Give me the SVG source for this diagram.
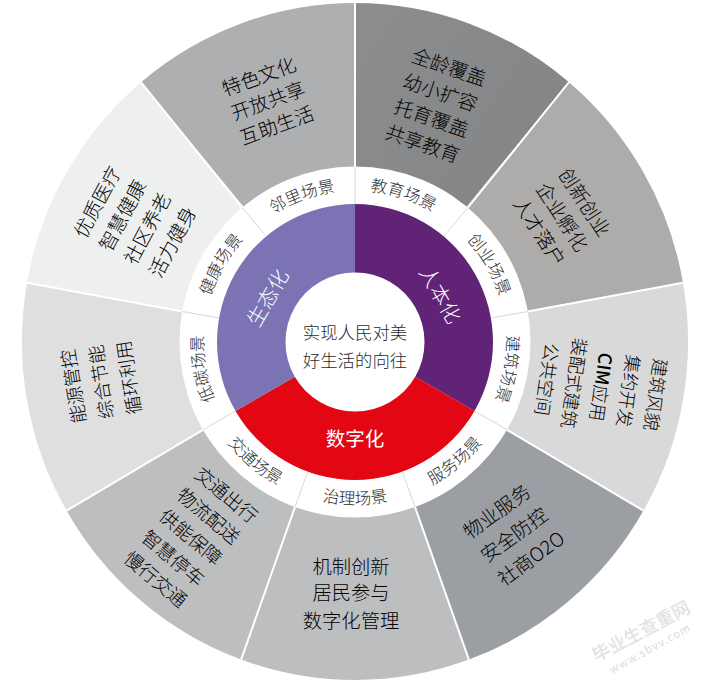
<svg xmlns="http://www.w3.org/2000/svg" width="713" height="686" viewBox="0 0 713 686">
<style>
text{font-family:"Noto Sans CJK SC","Noto Sans",sans-serif;font-weight:300}
.o{font-size:19.3px;fill:#000;text-anchor:middle}
.s{font-size:16.5px;fill:#2b2b2b;text-anchor:middle}
.m{font-size:20.5px;fill:#fff;text-anchor:middle}
.c{font-size:17.4px;fill:#2b2b2b;text-anchor:middle}
.w{fill:#e2e2e2;text-anchor:middle;font-weight:500}
.d{stroke:#fff;stroke-width:2;fill:none}
.t{stroke:#d8d8d8;stroke-width:1;fill:none}
</style>
<defs>
<path id="a20" d="M328.7 192.8A151.5 151.5 0 0 1 471.1 244.6"/>
<path id="a60" d="M430.75 210.8A151.5 151.5 0 0 1 506.5 342"/>
<path id="a100" d="M497.4 290.2A151.5 151.5 0 0 1 471.1 439.4"/>
<path id="a260" d="M238.9 439.4A151.5 151.5 0 0 1 212.6 290.2"/>
<path id="a300" d="M203.5 342A151.5 151.5 0 0 1 279.25 210.8"/>
<path id="a340" d="M238.9 244.6A151.5 151.5 0 0 1 381.3 192.8"/>
<path id="a140" d="M383.2 502A162.5 162.5 0 0 0 507.7 397.6"/>
<path id="a180" d="M273.75 482.7A162.5 162.5 0 0 0 436.25 482.7"/>
<path id="a220" d="M202.3 397.6A162.5 162.5 0 0 0 326.8 502"/>
<linearGradient id="g1" x1="0" y1="0" x2="1" y2="1"><stop offset="0" stop-color="#8c8d8f"/><stop offset="1" stop-color="#7f8183"/></linearGradient>
</defs>
<rect width="713" height="686" fill="#fff"/>
<g id="sector-education">
<path fill="url(#g1)" d="M355 342V3A333 338.5 0 0 1 569 82.2Z"/>
<g transform="translate(436 105) rotate(19)"><text class="o" y="-33">全龄覆盖</text><text class="o" y="-6">幼小扩容</text><text class="o" y="21">托育覆盖</text><text class="o" y="48">共享教育</text></g>
</g>
<g id="sector-innovation">
<path fill="#aeacab" d="M355 342L569 82.2A333 338.5 0 0 1 683 282.7Z"/>
<g transform="translate(562 217) rotate(57)"><text class="o" y="-20">创新创业</text><text class="o" y="7">企业孵化</text><text class="o" y="34">人才落户</text></g>
</g>
<g id="sector-architecture">
<path fill="#d9d9d9" d="M355 342L683 282.7A333 338.5 0 0 1 643.4 510.7Z"/>
<g transform="translate(601 387) rotate(98)"><text class="o" style="font-size:18.2px" y="-48.5">建筑风貌</text><text class="o" style="font-size:18.2px" y="-21">集约开发</text><text class="o" style="font-size:18.2px" y="6.5"><tspan style="font-weight:500">CIM</tspan>应用</text><text class="o" style="font-size:18.2px" y="34">装配式建筑</text><text class="o" style="font-size:18.2px" y="61.5">公共空间</text></g>
</g>
<g id="sector-service">
<path fill="#9b9ea3" d="M355 342L643.4 510.7A333 338.5 0 0 1 468.9 659.6Z"/>
<g transform="translate(514 535) rotate(-36)"><text class="o" y="-22">物业服务</text><text class="o" y="7">安全防控</text><text class="o" y="36">社商O2O</text></g>
</g>
<g id="sector-governance">
<path fill="#bdbec0" d="M355 342L468.9 659.6A333 338.5 0 0 1 241.1 659.6Z"/>
<text class="o" x="351" y="573.5">机制创新</text><text class="o" x="351" y="600">居民参与</text><text class="o" x="351" y="628">数字化管理</text>
</g>
<g id="sector-traffic">
<path fill="#bdbebf" d="M355 342L241.1 659.6A333 338.5 0 0 1 66.6 510.7Z"/>
<g transform="translate(191 537) rotate(40)"><text class="o" style="font-size:18.7px" y="-48">交通出行</text><text class="o" style="font-size:18.7px" y="-20.5">物流配送</text><text class="o" style="font-size:18.7px" y="7">供能保障</text><text class="o" style="font-size:18.7px" y="34.5">智慧停车</text><text class="o" style="font-size:18.7px" y="62">慢行交通</text></g>
</g>
<g id="sector-lowcarbon">
<path fill="#dfdfdf" d="M355 342L66.6 510.7A333 338.5 0 0 1 27 282.7Z"/>
<g transform="translate(101 382) rotate(-99)"><text class="o" style="font-size:18.6px" y="-21">能源管控</text><text class="o" style="font-size:18.6px" y="7">综合节能</text><text class="o" style="font-size:18.6px" y="35">循环利用</text></g>
</g>
<g id="sector-health">
<path fill="#eef0ef" d="M355 342L27 282.7A333 338.5 0 0 1 141 82.2Z"/>
<g transform="translate(135 222) rotate(-62)"><text class="o" y="-35.5">优质医疗</text><text class="o" y="-7">智慧健康</text><text class="o" y="21">社区养老</text><text class="o" y="49.5">活力健身</text></g>
</g>
<g id="sector-neighbourhood">
<path fill="#aeafb0" d="M355 342L141 82.2A333 338.5 0 0 1 355 3Z"/>
<g transform="translate(268 101) rotate(-20)"><text class="o" y="-19">特色文化</text><text class="o" y="7">开放共享</text><text class="o" y="33">互助生活</text></g>
</g>
<circle cx="355" cy="342" r="175.5" fill="#fff"/>
<g id="connectors">
<path class="d" d="M355 167V3M467.8 207.6L569 82.2M527.8 311.5L683 282.7M507 429.75L643.4 510.7M415 506.9L468.9 659.6M295 506.9L241.1 659.6M203 429.75L66.6 510.7M182.2 311.5L27 282.7M242.2 207.6L141 82.2"/>
<path class="t" d="M355 167V204M467.8 207.6L443.7 236.3M527.8 311.5L490.9 318M507 429.75L474.5 411M415 506.9L402.2 471.7M295 506.9L307.8 471.7M203 429.75L235.5 411M182.2 311.5L219.1 318M242.2 207.6L266.3 236.3"/>
</g>
<g id="ring-people">
<path fill="#612376" d="M355 204A138 138 0 0 1 474.5 411L415.2 376.75A69.5 69.5 0 0 0 355 272.5Z"/>
<text class="m" transform="translate(440 295) rotate(60)" y="7">人本化</text>
</g>
<g id="ring-digital">
<path fill="#e30613" d="M474.5 411A138 138 0 0 1 235.5 411L294.8 376.75A69.5 69.5 0 0 0 415.2 376.75Z"/>
<text class="m" x="355" y="446" style="font-size:19.5px;font-weight:400">数字化</text>
</g>
<g id="ring-eco">
<path fill="#7b73b4" d="M235.5 411A138 138 0 0 1 355 204V272.5A69.5 69.5 0 0 0 294.8 376.75Z"/>
<text class="m" transform="translate(268 298) rotate(-60)" y="7">生态化</text>
</g>
<g id="label-education"><text class="s"><textPath href="#a20" startOffset="47%">教育场景</textPath></text></g>
<g id="label-startup"><text class="s"><textPath href="#a60" startOffset="50%">创业场景</textPath></text></g>
<g id="label-building"><text class="s"><textPath href="#a100" startOffset="50%">建筑场景</textPath></text></g>
<g id="label-service"><text class="s"><textPath href="#a140" startOffset="50%">服务场景</textPath></text></g>
<g id="label-governance"><text class="s"><textPath href="#a180" startOffset="50%">治理场景</textPath></text></g>
<g id="label-traffic"><text class="s"><textPath href="#a220" startOffset="50%">交通场景</textPath></text></g>
<g id="label-lowcarbon"><text class="s"><textPath href="#a260" startOffset="50%">低碳场景</textPath></text></g>
<g id="label-health"><text class="s"><textPath href="#a300" startOffset="50%">健康场景</textPath></text></g>
<g id="label-neighbourhood"><text class="s"><textPath href="#a340" startOffset="50%">邻里场景</textPath></text></g>
<g id="center"><text class="c" x="355" y="339">实现人民对美</text><text class="c" x="355" y="367">好生活的向往</text></g>
<g id="watermark"><text class="w" style="font-size:18px" transform="translate(644 637) rotate(-28)">毕业生查重网</text><text class="w" style="font-size:11px;letter-spacing:1px" transform="translate(652 652) rotate(-29)">www.sbvv.com</text></g>
</svg>
